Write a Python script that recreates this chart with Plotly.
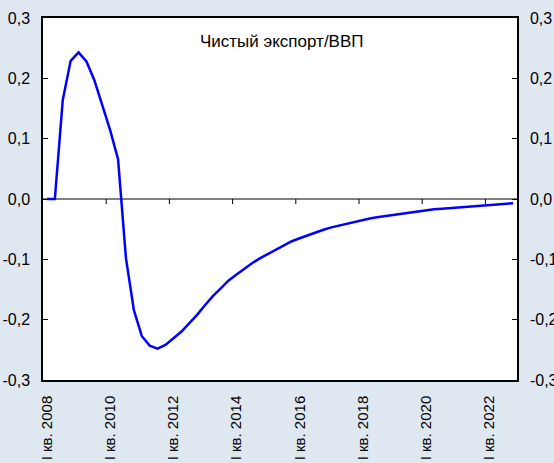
import plotly.graph_objects as go

# Quarterly series, I кв. 2008 – IV кв. 2022 (60 quarters)
quarters = [f"{q} кв. {y}" for y in range(2008, 2023) for q in ("I", "II", "III", "IV")]
net_export_gdp = [
    0.000, 0.000, 0.164, 0.229, 0.243, 0.228, 0.197, 0.157, 0.114, 0.066,
    -0.098, -0.184, -0.227, -0.243, -0.248, -0.242, -0.231, -0.220, -0.206, -0.192,
    -0.176, -0.161, -0.148, -0.135, -0.125, -0.115, -0.106, -0.098, -0.091, -0.085,
    -0.077, -0.070, -0.065, -0.060, -0.056, -0.051, -0.047, -0.044, -0.041, -0.037,
    -0.034, -0.032, -0.030, -0.028, -0.026, -0.024, -0.023, -0.021, -0.019, -0.017,
    -0.016, -0.015, -0.013, -0.012, -0.011, -0.010, -0.009, -0.009, -0.008, -0.007,
]
label_years = list(range(2008, 2023, 2))
x_labels = [f"I кв. {y}" for y in label_years]
y_ticks = [-0.3, -0.2, -0.1, 0.0, 0.1, 0.2, 0.3]
y_labels = ["-0,3", "-0,2", "-0,1", "0,0", "0,1", "0,2", "0,3"]
chart_title = "Чистый экспорт/ВВП"

idx = list(range(len(quarters)))
label_pos = [quarters.index(f"I кв. {y}") for y in label_years]
boundary_pos = [p - 0.5 for p in label_pos[1:]]

FONT = "Arial, Liberation Sans, sans-serif"

fig = go.Figure()
# invisible trace to activate the right-hand axis
fig.add_trace(go.Scatter(x=[0], y=[0], yaxis="y2", mode="markers",
                         marker=dict(opacity=0), showlegend=False, hoverinfo="skip"))
fig.add_trace(go.Scatter(
    x=idx, y=net_export_gdp, mode="lines",
    line=dict(color="#0000ff", width=2.5),
    hoverinfo="skip", showlegend=False,
))

# small category-boundary ticks hanging below the zero line
tick_shapes = [
    dict(type="line", xref="x", yref="y", ysizemode="pixel", yanchor=0,
         x0=b, x1=b, y0=0, y1=-5, line=dict(color="#000000", width=1))
    for b in boundary_pos
]

fig.update_layout(
    width=554, height=463,
    margin=dict(l=43, r=37, t=18, b=83),
    paper_bgcolor="#dfe7f1",
    plot_bgcolor="#ffffff",
    font=dict(family=FONT, size=16, color="#000000"),
    shapes=tick_shapes,
    xaxis=dict(
        range=[-0.5, len(quarters) - 0.5], automargin=False,
        tickmode="array", tickvals=label_pos, ticktext=x_labels,
        tickangle=-90, ticks="", ticklabelstandoff=8,
        tickfont=dict(size=15),
        showgrid=False, zeroline=False,
        showline=True, linecolor="#000000", linewidth=1.5, mirror=True,
    ),
    yaxis=dict(
        range=[-0.3, 0.3], automargin=False,
        tickmode="array", tickvals=y_ticks, ticktext=y_labels,
        ticks="inside", ticklen=5, tickwidth=1, tickcolor="#000000",
        ticklabelstandoff=8,
        showgrid=False,
        zeroline=True, zerolinecolor="#808080", zerolinewidth=2,
        showline=True, linecolor="#000000", linewidth=1.5,
    ),
    yaxis2=dict(
        overlaying="y", side="right", range=[-0.3, 0.3], automargin=False,
        tickmode="array", tickvals=y_ticks, ticktext=y_labels,
        ticks="inside", ticklen=5, tickwidth=1, tickcolor="#000000",
        ticklabelstandoff=8,
        showgrid=False, zeroline=False,
        showline=True, linecolor="#000000", linewidth=1.5,
    ),
    annotations=[dict(
        text=chart_title, xref="paper", yref="paper",
        x=0.505, y=0.935, xanchor="center", yanchor="middle",
        showarrow=False, font=dict(family=FONT, size=17, color="#000000"),
    )],
)

fig.write_html("out.html")
